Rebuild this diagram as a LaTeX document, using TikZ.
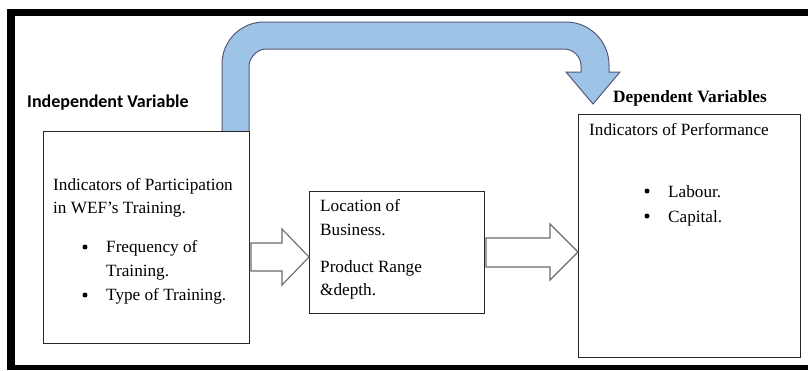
\documentclass[tikz,border=0pt]{standalone}
\usepackage{fontspec}
\setmainfont{Liberation Serif}
\newfontfamily\tnr{Liberation Serif}
\newfontfamily\carlito{Carlito}
\begin{document}
\begin{tikzpicture}[x=1pt,y=-1pt,
  boxst/.style={draw=black!85,line width=0.9pt,fill=white},
  txt/.style={inner sep=0pt,anchor=base west,font=\tnr\fontsize{17.2}{20}\selectfont},
  bul/.style={circle,fill=black,inner sep=0pt,minimum size=5pt},
  hollow/.style={draw=black!58,line width=1.1pt,fill=white,line join=miter},
  bluest/.style={draw=black!55!blue!30!gray,line width=1pt,fill={rgb,255:red,157;green,195;blue,230}}]
\useasboundingbox (0,0) rectangle (808,370);
% outer frame
\fill[black] (7,9) rectangle (808,16);
\fill[black] (7,9) rectangle (15,370);
\fill[black] (7,365) rectangle (808,370);
% blue curved arrow
\draw[bluest] (222,132) -- (222,64) .. controls (222,40.8) and (240.8,22) .. (264,22)
  -- (566,22) .. controls (589.7,22) and (609,41.3) .. (609,65)
  -- (609,72) -- (620,72) -- (593,104) -- (566,72) -- (581,72)
  -- (581,66) .. controls (581,56.6) and (573.4,49) .. (564,49)
  -- (266,49) .. controls (256.6,49) and (249,58.4) .. (249,66)
  -- (249,132) -- cycle;
% boxes
\node[boxst,minimum width=206pt,minimum height=212pt,anchor=north west] (L) at (43,131) {};
\node[boxst,minimum width=175pt,minimum height=122pt,anchor=north west] (M) at (309,191) {};
\node[boxst,minimum width=222pt,minimum height=243pt,anchor=north west] (R) at (578,114) {};
% hollow arrows
\draw[hollow] (251,243) -- (282,243) -- (282,229) -- (M.west |- 0,257) -- (282,285) -- (282,271) -- (251,271) -- cycle;
\draw[hollow] (486,238) -- (550,238) -- (550,224) -- (R.west |- 0,252) -- (550,280) -- (550,267) -- (486,267) -- cycle;
% headings
\node[inner sep=0pt,anchor=base west,font=\carlito\bfseries\fontsize{18}{21}\selectfont] (iv) at (27,107) {Independent Variable};
\node[inner sep=0pt,anchor=base west,font=\tnr\bfseries\fontsize{17.3}{20}\selectfont] (dv) at (613,102) {Dependent Variables};
% left box text
\node[txt] (l1) at (53,190) {Indicators of Participation};
\node[txt] (l2) at (53,213) {in WEF’s Training.};
\node[bul] (b1) at (85,247) {};
\node[txt] (l3) at (106,252) {Frequency of};
\node[txt] (l4) at (106,276) {Training.};
\node[bul] (b2) at (85,295) {};
\node[txt] (l5) at (106,300) {Type of Training.};
% middle box text
\node[txt] (m1) at (320,211) {Location of};
\node[txt] (m2) at (320,235) {Business.};
\node[txt] (m3) at (320,272) {Product Range};
\node[txt] (m4) at (320,295) {\&depth.};
% right box text
\node[txt] (r1) at (589,135) {Indicators of Performance};
\node[bul] (b3) at (647,191) {};
\node[txt] (r2) at (668,197) {Labour.};
\node[bul] (b4) at (647,216) {};
\node[txt] (r3) at (668,222) {Capital.};
\end{tikzpicture}
\end{document}
